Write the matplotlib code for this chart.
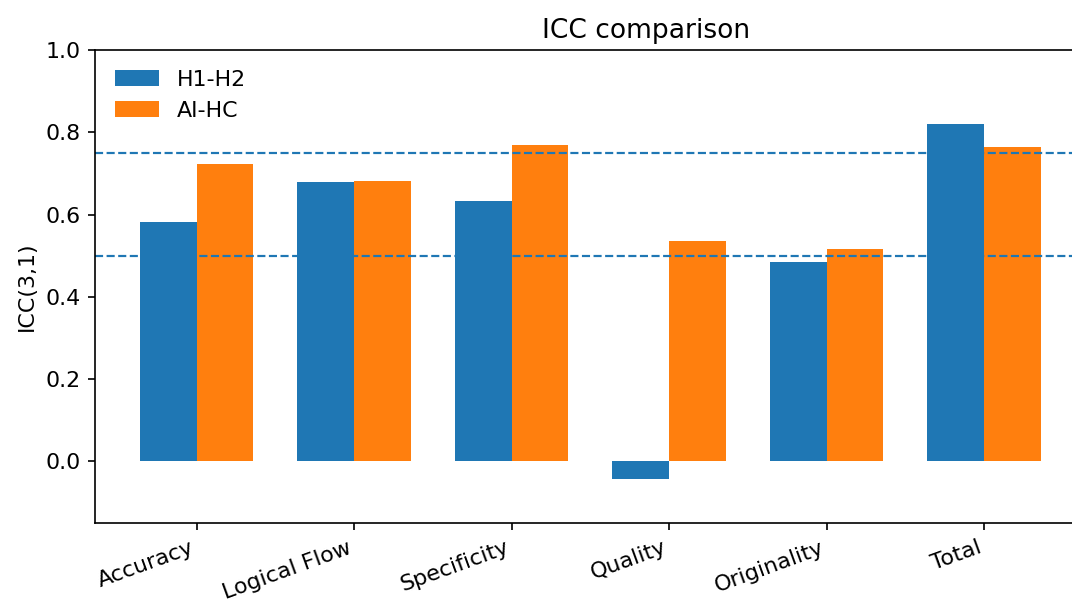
import matplotlib
matplotlib.use('Agg')
import matplotlib.pyplot as plt
import numpy as np

plt.rcParams.update({'font.size': 10.6})

categories = ['Accuracy', 'Logical Flow', 'Specificity', 'Quality', 'Originality', 'Total']
h1_h2 = [0.583, 0.678, 0.633, -0.044, 0.485, 0.820]
ai_hc = [0.723, 0.682, 0.769, 0.536, 0.517, 0.765]
thresholds = [0.5, 0.75]

fig = plt.figure(figsize=(1072/150, 599/150), dpi=150)
ax = fig.add_axes([0.0886, 0.1269, 0.9226, 0.7896])

x = np.arange(len(categories)); w = 0.36
ax.bar(x - w/2, h1_h2, w, label='H1-H2', color='#1f77b4')
ax.bar(x + w/2, ai_hc, w, label='AI-HC', color='#ff7f0e')
for t in thresholds:
    ax.axhline(t, linestyle='--', linewidth=1.05, color='#1f77b4')

ax.set_xticks(x)
ax.set_xticklabels(categories, rotation=20, ha='right')
ax.set_xlim(-0.646, 5.635)
ax.set_ylim(-0.15, 1.0)
ax.set_ylabel('ICC(3,1)')
ax.set_title('ICC comparison', x=0.557)
ax.legend(frameon=False, loc='upper left')

plt.savefig('out.png', dpi=150)
plt.close()
